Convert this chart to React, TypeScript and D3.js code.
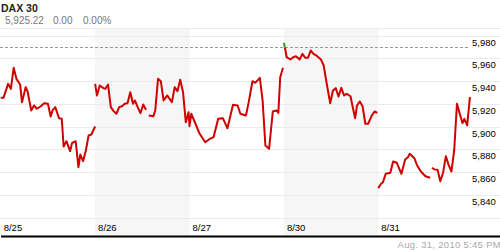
import React from "react";
import * as d3 from "d3";

type Pt = [string, number] | null;

const title = "DAX 30";
const quote = ["5,925.22", "0.00", "0.00%"];
const timestamp = "Aug. 31, 2010 5:45 PM";
const days = ["8/25", "8/26", "8/27", "8/30", "8/31"];
const gridValues = [5820, 5840, 5860, 5880, 5900, 5920, 5940, 5960, 5980];
const labelValues = [5840, 5860, 5880, 5900, 5920, 5940, 5960, 5980];
const prevClose = 5969.7;

const s0825: Pt[] = [
  ["9:00", 5925.2], ["9:15", 5925.2], ["9:40", 5937.5], ["9:55", 5933.1], ["10:10", 5951.6],
  ["10:25", 5941.9], ["10:45", 5936.9], ["10:55", 5921.4], ["11:15", 5934.6], ["11:25", 5931.0],
  ["11:45", 5914.1], ["12:00", 5918.5], ["12:15", 5915.6], ["12:35", 5917.6], ["12:55", 5920.5],
  ["13:15", 5920.0], ["13:30", 5908.8], ["13:40", 5914.1], ["13:55", 5917.0], ["14:15", 5907.3],
  ["14:30", 5906.8], ["14:40", 5882.4], ["14:55", 5887.1], ["15:15", 5878.3], ["15:25", 5885.3],
  ["15:45", 5887.1], ["16:00", 5864.2], ["16:10", 5875.4], ["16:25", 5869.5], ["16:40", 5878.9],
  ["16:55", 5892.1], ["17:10", 5893.0], ["17:30", 5900.0], null,
];
const s0826: Pt[] = [
  ["9:00", 5937.5], ["9:10", 5927.3], ["9:25", 5936.0], ["9:45", 5933.7], ["9:55", 5933.1],
  ["10:10", 5936.9], ["10:25", 5917.0], ["10:40", 5913.5], ["10:55", 5911.2], ["11:10", 5917.0],
  ["11:25", 5917.8], ["11:40", 5920.0], ["11:55", 5920.5], ["12:10", 5930.2], ["12:25", 5920.0],
  ["12:35", 5922.9], ["12:50", 5917.0], ["13:05", 5911.7], ["13:20", 5919.3], ["13:35", 5914.7], null,
  ["13:50", 5909.7], ["14:15", 5909.1], ["14:25", 5914.1], ["14:40", 5941.9], ["14:55", 5939.8],
  ["15:10", 5922.9], ["15:30", 5927.3], ["15:55", 5921.4], ["16:10", 5934.6], ["16:25", 5931.0],
  ["16:40", 5941.1], ["16:55", 5930.2], ["17:10", 5903.8], ["17:25", 5912.6],
];
const s0827: Pt[] = [
  ["9:00", 5900.3], ["9:10", 5911.2], ["9:30", 5903.3], ["9:55", 5893.6], ["10:25", 5886.2],
  ["10:45", 5888.6], ["11:10", 5890.6], ["11:35", 5906.8], ["12:00", 5907.3], ["12:25", 5898.5],
  ["12:55", 5919.1], ["13:20", 5918.5], ["13:35", 5911.2], ["14:05", 5909.7], ["14:20", 5921.4],
  ["14:40", 5939.8], ["14:55", 5938.4], ["15:20", 5942.8], ["15:35", 5922.9], ["15:50", 5883.3],
  ["16:10", 5880.4], ["16:30", 5913.2], ["16:50", 5914.1], ["17:00", 5912.0], ["17:10", 5943.3],
  ["17:25", 5951.6], null,
];
const s0830: Pt[] = [
  ["9:00", 5973.6], ["9:05", 5969.7], ["9:15", 5960.9], ["9:35", 5958.9], ["9:50", 5960.9],
  ["10:05", 5961.8], ["10:25", 5958.9], ["10:40", 5963.9], ["10:55", 5960.4], ["11:10", 5960.4],
  ["11:25", 5966.8], ["11:40", 5963.9], ["12:00", 5961.8], ["12:20", 5958.9], ["12:35", 5953.6],
  ["12:50", 5938.9], ["13:10", 5920.5], ["13:25", 5931.6], ["13:40", 5933.7], ["13:55", 5926.4],
  ["14:10", 5934.0], ["14:25", 5927.3], ["14:40", 5928.7], ["15:00", 5926.6], ["15:10", 5918.5],
  ["15:25", 5907.3], ["15:35", 5918.5], ["15:50", 5922.0], ["16:05", 5917.8], ["16:20", 5902.4],
  ["16:35", 5902.4], ["16:55", 5909.7], ["17:10", 5913.2], ["17:25", 5912.0], null,
];
const s0831: Pt[] = [
  ["9:00", 5845.8], ["9:15", 5849.6], ["9:25", 5851.0], ["9:40", 5858.4], ["10:05", 5859.3],
  ["10:20", 5869.2], ["10:40", 5868.1], ["11:05", 5858.4], ["11:25", 5871.0], ["11:40", 5873.0],
  ["11:50", 5876.0], ["12:15", 5872.1], ["12:30", 5865.7], ["12:50", 5860.4], ["13:15", 5856.3],
  ["13:40", 5854.9], null,
  ["13:50", 5863.7], ["14:05", 5862.2], ["14:20", 5862.0], ["14:35", 5851.9], ["14:50", 5859.3],
  ["15:05", 5873.9], ["15:20", 5866.3], ["15:35", 5860.4], ["15:50", 5878.9], ["16:05", 5920.0],
  ["16:20", 5911.2], ["16:35", 5902.9], ["16:45", 5906.8], ["17:00", 5900.9], ["17:15", 5925.8],
];
const sessions = [s0825, s0826, s0827, s0830, s0831];

const W = 500;
const H = 250;
const SESSION = 510; // 9:00 - 17:30 in minutes
const FONT = "'Liberation Sans', Arial, Helvetica, sans-serif";

type P = { m: number; v: number } | null;

export default function App() {
  const x = d3.scaleLinear().domain([0, SESSION * days.length]).range([0.7, 472.7]);
  const y = d3.scaleLinear().domain([5820, 5980]).range([217.5, 35.5]);

  const pts: P[] = [];
  sessions.forEach((s, di) => {
    s.forEach((p) => {
      if (p === null) {
        pts.push(null);
      } else {
        const [hh, mm] = p[0].split(":").map(Number);
        pts.push({ m: di * SESSION + hh * 60 + mm - 540, v: p[1] });
      }
    });
  });

  const line = d3
    .line<P>()
    .defined((d) => d !== null)
    .x((d) => x((d as any).m))
    .y((d) => y((d as any).v));
  const path = line(pts) || "";
  const yRef = Math.round(y(prevClose)) + 0.5;
  const plotTop = 28;
  const axisY = 236.5;

  return (
    <svg
      width={W}
      height={H}
      style={{ position: "absolute", left: 0, top: 0, background: "#fff" }}
      fontFamily={FONT}
    >
      <defs>
        <clipPath id="above">
          <rect x={0} y={0} width={W} height={yRef} />
        </clipPath>
        <clipPath id="below">
          <rect x={0} y={yRef} width={W} height={H - yRef} />
        </clipPath>
      </defs>
      <rect width={W} height={H} fill="#fff" />
      {days.map((d, i) =>
        i % 2 === 1 ? (
          <rect
            key={"band" + d}
            x={x(i * SESSION)}
            y={plotTop}
            width={x((i + 1) * SESSION) - x(i * SESSION)}
            height={axisY - plotTop}
            fill="#f6f6f6"
          />
        ) : null
      )}
      <line x1={0} x2={W} y1={plotTop + 0.5} y2={plotTop + 0.5} stroke="#ebebeb" strokeWidth={1} />
      {gridValues.map((g) => (
        <line
          key={"g" + g}
          x1={0}
          x2={W}
          y1={Math.round(y(g)) + 0.5}
          y2={Math.round(y(g)) + 0.5}
          stroke="#ebebeb"
          strokeWidth={1}
        />
      ))}
      <line x1={0} x2={470} y1={yRef} y2={yRef} stroke="#999" strokeWidth={1} strokeDasharray="3,2" />
      {labelValues.map((g) => (
        <text key={"l" + g} x={472} y={Math.round(y(g)) + 10} fontSize={9.5} fill="#000">
          {d3.format(",")(g)}
        </text>
      ))}
      {days.map((d, i) => (
        <text key={"d" + d} x={x(i * SESSION) + 3} y={231} fontSize={9.5} fill="#000">
          {d}
        </text>
      ))}
      <line x1={1} x2={W} y1={axisY} y2={axisY} stroke="#000" strokeWidth={2} />
      <path d={path} fill="none" stroke="#d00000" strokeWidth={2} strokeLinejoin="round" clipPath="url(#below)" />
      <path d={path} fill="none" stroke="#2aa02a" strokeWidth={2} strokeLinejoin="round" clipPath="url(#above)" />
      <text x={1} y={12} fontSize={10.5} fontWeight="bold" fill="#222">
        {title}
      </text>
      <text x={5} y={24} fontSize={10} fill="#777">
        {quote[0]}
      </text>
      <text x={53} y={24} fontSize={10} fill="#777">
        {quote[1]}
      </text>
      <text x={83} y={24} fontSize={10} fill="#777">
        {quote[2]}
      </text>
      <text x={501} y={248} fontSize={9.5} fill="#aaa" textAnchor="end" letterSpacing={0.3}>
        {timestamp}
      </text>
    </svg>
  );
}
